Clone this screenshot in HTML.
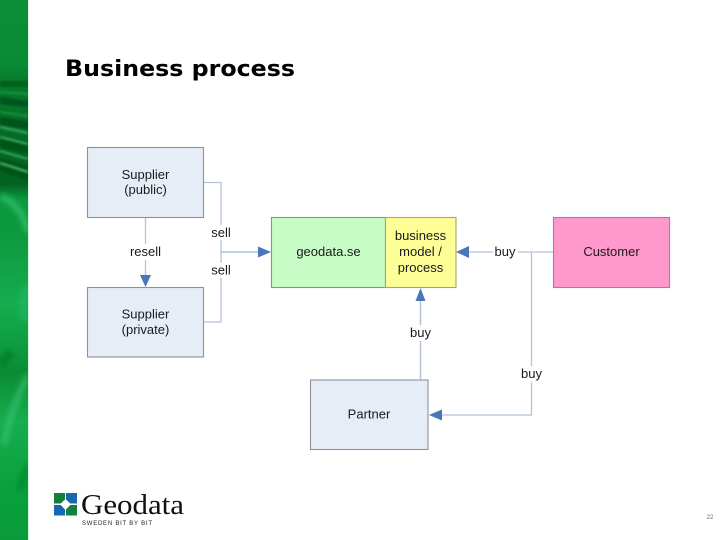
<!DOCTYPE html>
<html><head><meta charset="utf-8"><style>
html,body{margin:0;padding:0;background:#fff}
svg{display:block}
text{font-family:"Liberation Sans",sans-serif;fill:#1a1a1a}
</style></head><body>
<svg width="720" height="540" viewBox="0 0 720 540" xmlns="http://www.w3.org/2000/svg">
<defs>
<linearGradient id="g" x1="0" y1="0" x2="0" y2="1">
<stop offset="0" stop-color="#0a8f38"/><stop offset=".12" stop-color="#0a8a35"/><stop offset=".15" stop-color="#077a2c"/>
<stop offset=".34" stop-color="#03601f"/><stop offset=".37" stop-color="#0b9a40"/><stop offset=".42" stop-color="#0a9a3c"/><stop offset=".46" stop-color="#0f9c42"/>
<stop offset=".56" stop-color="#16ad4f"/><stop offset=".65" stop-color="#0d9a3d"/><stop offset=".69" stop-color="#0a8c33"/><stop offset=".78" stop-color="#18ad4f"/>
<stop offset=".9" stop-color="#08a23c"/><stop offset="1" stop-color="#0a9a3a"/></linearGradient>
<filter id="b" x="-20%" y="-20%" width="140%" height="140%"><feGaussianBlur stdDeviation="1"/></filter>
<filter id="b2" x="-50%" y="-50%" width="200%" height="200%"><feGaussianBlur stdDeviation="3"/></filter>
<clipPath id="c"><rect width="28" height="540"/></clipPath>
</defs>
<rect width="720" height="540" fill="#fff"/>
<g clip-path="url(#c)">
<rect width="28" height="540" fill="url(#g)"/>
<g filter="url(#b)">
<path d="M0 81h28v6H0z" fill="#03601f"/>
<path d="M0 97l28 4v6l-28-3z" fill="#02521a"/>
<path d="M0 117l28 4v8l-28-4z" fill="#02521a"/>
<path d="M0 136l28 6v12l-28-6z" fill="#025518"/>
<path d="M0 158l28 8v14l-28-9z" fill="#025318"/>
</g>
<g fill="none" filter="url(#b)">
<path d="M0 92l28 2" stroke="#1f9c4e" stroke-width="1.500"/>
<path d="M0 112l28 4" stroke="#1f9c4e" stroke-width="1.500"/>
<path d="M0 127l28 6" stroke="#3cb56a" stroke-width="1.800"/>
<path d="M0 137l28 7" stroke="#4cc07a" stroke-width="1.800"/>
<path d="M0 151l28 8" stroke="#38b566" stroke-width="1.800"/>
<path d="M0 163l28 9" stroke="#48c078" stroke-width="2"/>
</g>
<g fill="none" filter="url(#b2)">
<path d="M0 196C12 200 24 212 28 232" stroke="#3ec878" stroke-width="5" opacity=".8"/>
<path d="M28 285C22 300 22 310 25 320" stroke="#2dc070" stroke-width="5" opacity=".6"/>
<path d="M0 365L12 352" stroke="#057a28" stroke-width="10" opacity=".7"/>
<path d="M28 375C16 400 8 420 4 445" stroke="#3fc97f" stroke-width="5" opacity=".7"/>
<path d="M28 465L20 490" stroke="#07802d" stroke-width="7" opacity=".7"/>
</g>
</g>
<rect x="28" y="0" width="1" height="540" fill="#d8f3df"/>

<text x="65" y="76" font-size="22.500" font-weight="700" textLength="230" lengthAdjust="spacingAndGlyphs" style="font-family:'DejaVu Sans',sans-serif;fill:#000">Business process</text>

<g fill="none" stroke="#b4c4d6" stroke-width="1.300">
<path d="M204 182.500H221V322H204"/>
<path d="M221 252H260" stroke="#9fb6d2"/>
<path d="M145.500 218V277"/>
<path d="M420.500 379V300" stroke-width="1.500"/>
<path d="M553 252H468"/>
<path d="M531.500 252V415H441"/>
</g>
<g fill="#4a76bb">
<path d="M258 246.500L271 252L258 257.500Z"/>
<path d="M140 275H151L145.500 287Z"/>
<path d="M456 252L469 246V258Z"/>
<path d="M420.500 288L425.500 301H415.500Z"/>
<path d="M429 415L442 409.500V420.500Z"/>
</g>
<g stroke="#8b929a" stroke-width="1.100" fill="#e6edf7">
<rect x="87.500" y="147.500" width="116" height="70"/>
<rect x="87.500" y="287.500" width="116" height="69.500"/>
<rect x="310.500" y="380" width="117.500" height="69.500"/>
</g>
<rect x="271.500" y="217.500" width="114" height="70" fill="#c8fcc6" stroke="#7d9a7c" stroke-width="1.100"/>
<rect x="385.500" y="217.500" width="70.500" height="70" fill="#fefe97" stroke="#a5a56e" stroke-width="1.100"/>
<rect x="553.500" y="217.500" width="116" height="70" fill="#ff99cc" stroke="#a77d95" stroke-width="1.100"/>

<g font-size="13" text-anchor="middle">
<text x="145.500" y="179">Supplier</text>
<text x="145.500" y="194">(public)</text>
<text x="145.500" y="318.500">Supplier</text>
<text x="145.500" y="334">(private)</text>
<text x="328.500" y="256">geodata.se</text>
<text x="420.500" y="240">business</text>
<text x="420.500" y="256">model /</text>
<text x="420.500" y="272">process</text>
<text x="611.500" y="256">Customer</text>
<text x="369" y="418.500">Partner</text>
</g>
<g fill="#fff">
<rect x="128" y="244" width="35" height="16"/>
<rect x="209" y="225" width="25" height="15"/>
<rect x="209" y="263" width="25" height="15"/>
<rect x="493" y="244" width="25" height="16"/>
<rect x="408" y="325" width="25" height="16"/>
<rect x="519" y="366" width="25" height="16"/>
</g>
<g font-size="13" text-anchor="middle">
<text x="145.500" y="256">resell</text>
<text x="221" y="237">sell</text>
<text x="221" y="274.500">sell</text>
<text x="505" y="256">buy</text>
<text x="420.500" y="337">buy</text>
<text x="531.500" y="378">buy</text>
</g>

<rect x="54" y="493" width="11" height="10.500" fill="#15803c"/>
<rect x="66" y="493" width="11" height="10.500" fill="#1668b0"/>
<rect x="54" y="505" width="11" height="10.500" fill="#1668b0"/>
<rect x="66" y="505" width="11" height="10.500" fill="#15803c"/>
<path d="M65.500 499L71 504.300L65.500 510L60 504.300Z" fill="#fff"/>
<text x="81" y="514" font-size="29" textLength="103" lengthAdjust="spacingAndGlyphs" style="font-family:'Liberation Serif',serif;fill:#111">Geodata</text>
<text x="82" y="525" font-size="6" textLength="70" style="fill:#222">SWEDEN BIT BY BIT</text>
<text x="710" y="519" font-size="6" text-anchor="middle" style="fill:#666">22</text>
</svg>
</body></html>
